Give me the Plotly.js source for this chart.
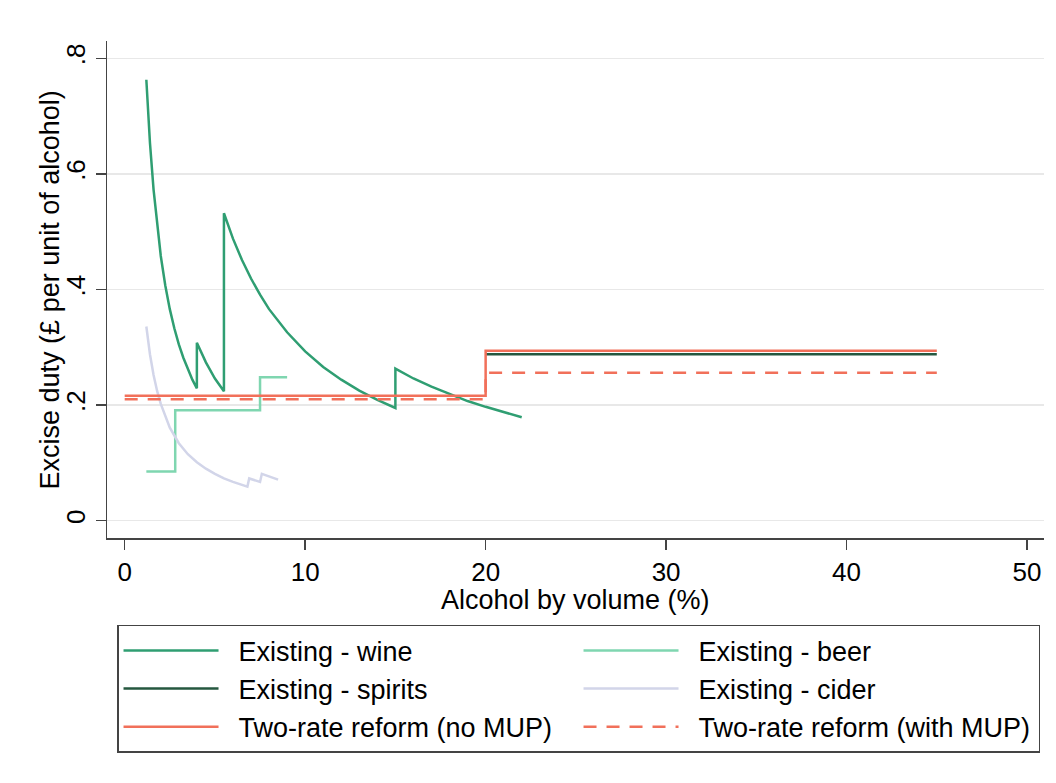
<!DOCTYPE html>
<html>
<head>
<meta charset="utf-8">
<script src="https://cdn.plot.ly/plotly-3.0.1.min.js"></script>
<style>html,body{margin:0;padding:0;background:#fff;}#chart{width:1056px;height:783px;}</style>
</head>
<body>
<div id="chart"></div>
<script>
// Existing - wine
const wineX = [1.2, 1.4, 1.6, 1.8, 2.0, 2.25, 2.5, 2.75, 3.0, 3.25, 3.5, 3.75, 4.0,
               4.0, 4.5, 5.0, 5.5,
               5.5, 6.0, 6.5, 7.0, 7.5, 8.0, 9.0, 10.0, 11.0, 12.0, 13.0, 14.0, 15.0,
               15.0, 16.0, 17.0, 18.0, 19.0, 20.0, 21.0, 22.0];
const wineY = [0.763, 0.654, 0.573, 0.509, 0.458, 0.407, 0.366, 0.333, 0.305, 0.282, 0.262, 0.244, 0.229,
               0.308, 0.274, 0.246, 0.224,
               0.532, 0.488, 0.451, 0.419, 0.391, 0.366, 0.326, 0.293, 0.266, 0.244, 0.225, 0.209, 0.195,
               0.263, 0.246, 0.232, 0.219, 0.207, 0.197, 0.188, 0.179];
// Existing - beer
const beerX = [1.2, 2.8, 2.8, 7.5, 7.5, 9.0];
const beerY = [0.085, 0.085, 0.191, 0.191, 0.248, 0.248];
// Existing - spirits
const spiritsX = [20, 45];
const spiritsY = [0.288, 0.288];
// Existing - cider
const ciderX = [1.2, 1.4, 1.6, 1.8, 2.0, 2.5, 3.0, 3.5, 4.0, 4.5, 5.0, 5.5, 6.0, 6.5, 6.8,
                6.9, 7.2, 7.5, 7.6, 8.0, 8.5];
const ciderY = [0.336, 0.288, 0.252, 0.224, 0.202, 0.161, 0.134, 0.115, 0.101, 0.090, 0.081, 0.073, 0.067, 0.062, 0.059,
                0.073, 0.070, 0.067, 0.081, 0.076, 0.071];
// Two-rate reform
const noMupX = [0, 20, 20, 45];
const noMupY = [0.216, 0.216, 0.294, 0.294];
const withMupX = [0, 20, 20, 45];
const withMupY = [0.210, 0.210, 0.256, 0.256];

const yTickVals = [0, 0.2, 0.4, 0.6, 0.8];
const yTickText = ['0', '.2', '.4', '.6', '.8'];
const xTickVals = [0, 10, 20, 30, 40, 50];
const xTitle = 'Alcohol by volume (%)';
const yTitle = 'Excise duty (£ per unit of alcohol)';
const seriesNames = ['Existing - wine', 'Existing - beer', 'Existing - spirits', 'Existing - cider',
                     'Two-rate reform (no MUP)', 'Two-rate reform (with MUP)'];

const FONT = 'Liberation Sans, Arial, sans-serif';
const lw = 2.5;
const pad = '\u00a0\u00a0';
const traces = [
  {x: wineX, y: wineY, name: pad + seriesNames[0], mode: 'lines', line: {color: '#2f9e72', width: lw}},
  {x: beerX, y: beerY, name: pad + seriesNames[1], mode: 'lines', line: {color: '#7fd6b0', width: lw}},
  {x: spiritsX, y: spiritsY, name: pad + seriesNames[2], mode: 'lines', line: {color: '#25573f', width: lw}},
  {x: ciderX, y: ciderY, name: pad + seriesNames[3], mode: 'lines', line: {color: '#d2d5e9', width: lw}},
  {x: noMupX, y: noMupY, name: pad + seriesNames[4], mode: 'lines', line: {color: '#f1705a', width: lw}},
  {x: withMupX, y: withMupY, name: pad + seriesNames[5], mode: 'lines', line: {color: '#f1705a', width: lw, dash: '13px,10px'}}
];

const layout = {
  width: 1056, height: 783,
  margin: {l: 107, r: 12, t: 41, b: 245},
  paper_bgcolor: '#ffffff', plot_bgcolor: '#ffffff',
  font: {family: FONT, size: 26, color: '#000'},
  showlegend: true,
  xaxis: {
    range: [-0.98, 50.94], tickvals: xTickVals, ticks: 'outside', ticklen: 10, tickwidth: 1.5, tickcolor: '#444',
    showline: true, linecolor: '#444', linewidth: 1.5, showgrid: false, zeroline: false,
    tickfont: {family: FONT, size: 26, color: '#000'}
  },
  yaxis: {
    range: [-0.030, 0.830], tickvals: yTickVals, ticktext: yTickText, tickangle: -90,
    ticks: 'outside', ticklen: 10, tickwidth: 1.5, tickcolor: '#444',
    showline: true, linecolor: '#444', linewidth: 1.5, showgrid: true, gridcolor: '#e8e8e8', gridwidth: 1.5, zeroline: false,
    tickfont: {family: FONT, size: 26, color: '#000'}
  },
  annotations: [
    {
      text: yTitle, xref: 'paper', yref: 'paper', x: -0.0609, y: 0.5,
      xanchor: 'center', yanchor: 'middle', textangle: -90, showarrow: false,
      font: {family: FONT, size: 27, color: '#000'}
    },
    {
      text: xTitle, xref: 'paper', yref: 'paper', x: 0.4995, y: -0.1247,
      xanchor: 'center', yanchor: 'middle', showarrow: false,
      font: {family: FONT, size: 27, color: '#000'}
    }
  ],
  legend: {
    orientation: 'h', x: 0.0107, y: -0.175, xanchor: 'left', yanchor: 'top',
    entrywidth: 350, entrywidthmode: 'pixels', itemwidth: 95,
    bordercolor: '#444', borderwidth: 1.5, bgcolor: '#fff',
    font: {family: FONT, size: 27, color: '#000'}
  }
};

Plotly.newPlot('chart', traces, layout, {displayModeBar: false, staticPlot: true});
</script>
</body>
</html>
